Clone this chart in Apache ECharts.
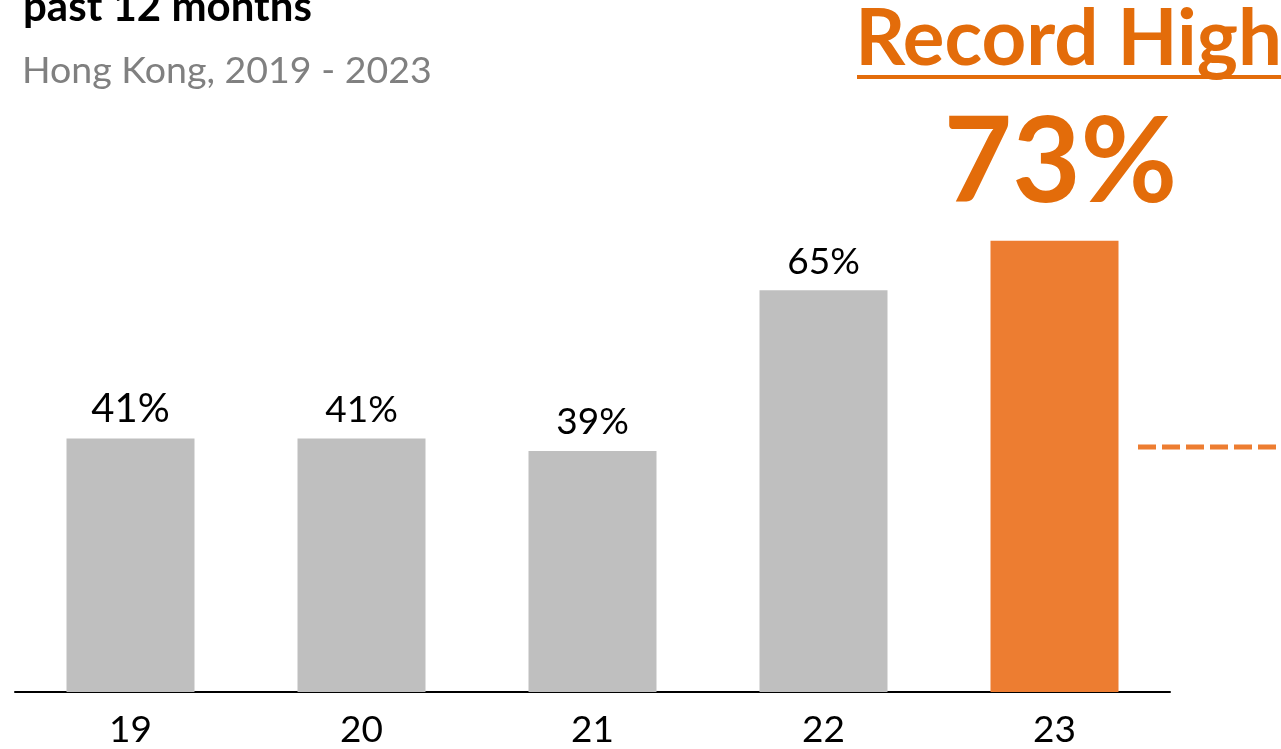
<!DOCTYPE html>
<html>
<head>
<meta charset="utf-8">
<style>
  html, body { margin: 0; padding: 0; background: #fff; }
  #main { width: 1281px; height: 749px; }
</style>
</head>
<body>
<div id="main"></div>
<script src="https://cdn.jsdelivr.net/npm/echarts@6/dist/echarts.min.js"></script>
<script>
    // data
    var years = ['19', '20', '21', '22', '23'];
    var shares = [41, 41, 39, 65, 73];
    var labelText = ['41%', '41%', '39%', '65%', '73%'];

    var FONT = 'Lato';
    var GREY = '#BFBFBF';
    var ORANGE = '#ED7D31';
    var ORANGE_TXT = '#E36C0A';

    var myChart = echarts.init(document.getElementById('main'));

    var barData = shares.map(function (v, i) {
        var item = { value: v, itemStyle: { color: GREY } };
        if (i === 0) {
            item.label = { fontSize: 40 };
        }
        if (i === shares.length - 1) {
            item.itemStyle = { color: ORANGE };
            item.label = {
                fontSize: 118,
                fontWeight: 'bold',
                color: ORANGE_TXT,
                distance: 18,
                offset: [6, 0]
            };
        }
        return item;
    });

    var option = {
        animation: false,
        title: [
            {
                text: 'past 12 months',
                left: 18,
                top: -19,
                textStyle: { fontFamily: FONT, fontSize: 42, fontWeight: 'bold', color: '#000' }
            },
            {
                text: 'Hong Kong, 2019 - 2023',
                left: 17,
                top: 47,
                textStyle: { fontFamily: FONT, fontSize: 37.5, fontWeight: 'normal', color: '#808080' }
            },
            {
                text: 'Record High',
                right: -6,
                top: -4,
                textStyle: { fontFamily: FONT, fontSize: 78, fontWeight: 'bold', color: ORANGE_TXT }
            }
        ],
        graphic: [
            {
                type: 'rect',
                shape: { x: 857, y: 75, width: 424, height: 4 },
                style: { fill: ORANGE_TXT }
            },
            {
                type: 'line',
                shape: { x1: 1138, y1: 447, x2: 1281, y2: 447 },
                style: { stroke: ORANGE, lineWidth: 5, lineDash: [18, 6] }
            }
        ],
        grid: { left: 15, right: 111, top: 74, bottom: 57 },
        xAxis: {
            type: 'category',
            data: years,
            axisLine: { lineStyle: { color: '#000', width: 2 } },
            axisTick: { show: false },
            axisLabel: { fontFamily: FONT, fontSize: 37, color: '#000', margin: 20 }
        },
        yAxis: {
            type: 'value',
            min: 0,
            max: 100,
            show: false,
            splitLine: { show: false }
        },
        series: [{
            type: 'bar',
            barWidth: 128,
            data: barData,
            label: {
                show: true,
                position: 'top',
                distance: 10,
                fontFamily: FONT,
                fontSize: 37,
                color: '#000',
                formatter: function (p) { return labelText[p.dataIndex]; }
            }
        }]
    };
    myChart.setOption(option);
</script>
</body>
</html>
